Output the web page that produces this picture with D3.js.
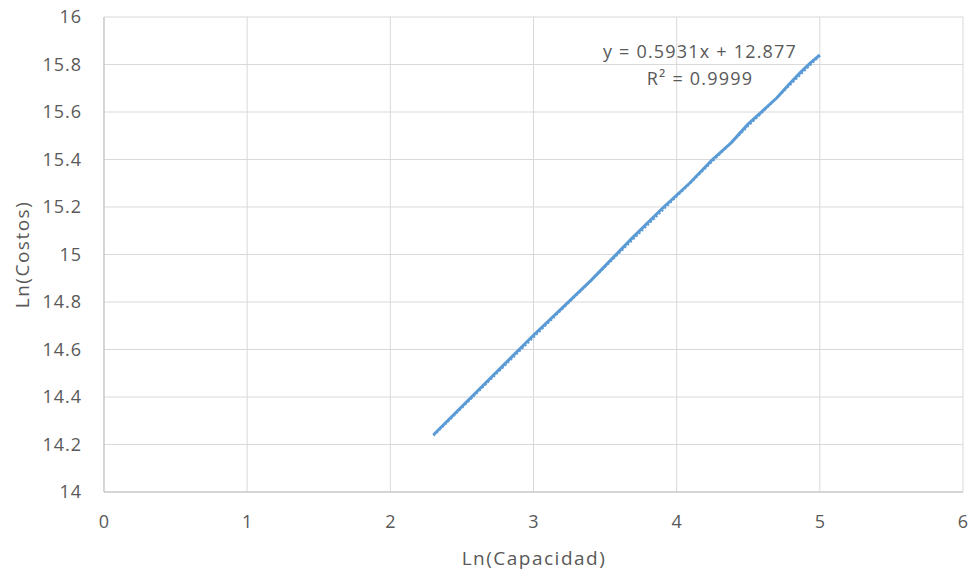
<!DOCTYPE html>
<html>
<head>
<meta charset="utf-8">
<script src="https://cdn.jsdelivr.net/npm/d3@7"></script>
<style>
body { margin: 0; background: #fff; }
text { font-family: "Open Sans", sans-serif; fill: #595959; }
</style>
</head>
<body>
<svg class="chart"></svg>
<script>
// ln(capacidad) and ln(costos)
const lnCap = [2.30, 3.00, 3.40, 3.69, 3.91, 4.09, 4.25, 4.38, 4.50, 4.61, 4.70, 4.79, 4.87, 4.94, 5.00]
const lnCost = [14.24, 14.66, 14.89, 15.07, 15.20, 15.30, 15.40, 15.47, 15.55, 15.61, 15.66, 15.72, 15.77, 15.81, 15.84]
const xTicks = [0, 1, 2, 3, 4, 5, 6]
const yTicks = [14, 14.2, 14.4, 14.6, 14.8, 15, 15.2, 15.4, 15.6, 15.8, 16]
const slope = 0.5931
const intercept = 12.877
const eqLabel = "y = 0.5931x + 12.877"
const r2Label = "R² = 0.9999"

const W = 971, H = 573
const svg = d3.select(".chart").attr("width", W).attr("height", H)

const x = d3.scaleLinear().domain([0, 6]).range([104, 963])
const y = d3.scaleLinear().domain([14, 16]).range([492, 17])

// gridlines
const grid = svg.append("g")
grid.selectAll(".vg").data(xTicks).enter().append("line")
  .attr("x1", d => x(d)).attr("x2", d => x(d))
  .attr("y1", y(16)).attr("y2", y(14))
  .style("stroke", "#d9d9d9").style("stroke-width", "1px")
grid.selectAll(".hg").data(yTicks).enter().append("line")
  .attr("x1", x(0)).attr("x2", x(6))
  .attr("y1", d => y(d)).attr("y2", d => y(d))
  .style("stroke", "#d9d9d9").style("stroke-width", "1px")

// axes lines
svg.append("line").attr("x1", x(0)).attr("x2", x(0)).attr("y1", y(16)).attr("y2", y(14))
  .style("stroke", "#bfbfbf")
svg.append("line").attr("x1", x(0)).attr("x2", x(6)).attr("y1", y(14)).attr("y2", y(14))
  .style("stroke", "#bfbfbf")

// tick labels
svg.selectAll(".xt").data(xTicks).enter().append("text")
  .attr("x", d => x(d)).attr("y", 528)
  .attr("text-anchor", "middle").style("font-size", "18px")
  .text(d => d)
svg.selectAll(".yt").data(yTicks).enter().append("text")
  .attr("x", 82).attr("y", d => y(d) + 6)
  .attr("text-anchor", "end").style("font-size", "18px")
  .style("letter-spacing", "1px")
  .text(d => d3.format("~g")(d))

// axis titles
svg.append("text").attr("x", 534).attr("y", 565)
  .attr("text-anchor", "middle").style("font-size", "19px")
  .style("letter-spacing", "1.5px")
  .text("Ln(Capacidad)")
svg.append("text")
  .attr("transform", "translate(29," + y(15) + ") rotate(-90)")
  .attr("text-anchor", "middle").style("font-size", "19px")
  .style("letter-spacing", "1.5px")
  .text("Ln(Costos)")

const pts = lnCap.map((d, i) => [d, lnCost[i]])

const line = d3.line()
  .x(d => x(d[0]))
  .y(d => y(d[1]))

// linear trendline (dotted), mostly hidden under the series
const xs = d3.extent(lnCap)
svg.append("path")
  .attr("d", line(xs.map(v => [v, slope * v + intercept])))
  .attr("fill", "none")
  .style("stroke", "#5b9bd5")
  .style("stroke-width", "1.5px")
  .style("stroke-dasharray", "2,2")
  .attr("transform", "translate(0.5,1.2)")

// data series
svg.append("path")
  .attr("d", line(pts))
  .attr("fill", "none")
  .style("stroke", "#5b9bd5")
  .style("stroke-width", "3px")
  .style("stroke-linejoin", "round")

// equation
svg.append("text").attr("x", 700).attr("y", 58)
  .attr("text-anchor", "middle").style("font-size", "18px")
  .style("letter-spacing", "1.2px")
  .text(eqLabel)
svg.append("text").attr("x", 700).attr("y", 85)
  .attr("text-anchor", "middle").style("font-size", "18px")
  .style("letter-spacing", "1.2px")
  .text(r2Label)
</script>
</body>
</html>
